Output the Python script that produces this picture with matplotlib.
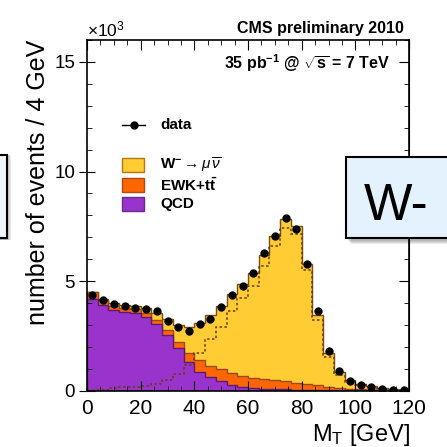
import numpy as np
import matplotlib
matplotlib.use("Agg")
import matplotlib.pyplot as plt
from matplotlib.patches import Rectangle
from matplotlib.lines import Line2D
from matplotlib.ticker import MultipleLocator

# ---------------------------------------------------------------
# Data (events x 10^3 per 4 GeV bin, M_T from 0 to 120 GeV)
# ---------------------------------------------------------------
mt_edges = np.arange(0, 124, 4)

qcd = [4.19, 3.91, 3.68, 3.61, 3.53, 3.38, 3.03, 2.54, 1.94, 1.33,
       0.87, 0.62, 0.42, 0.26, 0.17, 0.12, 0.09, 0.07, 0.06, 0.05,
       0.04, 0.03, 0.03, 0.02, 0.02, 0.01, 0.01, 0.01, 0.00, 0.00]
ewk = [0.30, 0.25, 0.18, 0.17, 0.19, 0.18, 0.20, 0.23, 0.30, 0.41,
       0.53, 0.51, 0.56, 0.53, 0.51, 0.48, 0.45, 0.41, 0.36, 0.31,
       0.26, 0.21, 0.15, 0.11, 0.07, 0.05, 0.03, 0.02, 0.02, 0.01]
wmunu = [0.03, 0.03, 0.12, 0.15, 0.16, 0.23, 0.30, 0.49, 0.76, 1.18,
         1.70, 2.34, 2.90, 3.62, 4.21, 4.79, 5.67, 6.60, 7.42, 7.14,
         5.50, 3.22, 1.55, 0.71, 0.40, 0.26, 0.16, 0.09, 0.06, 0.04]
data = [4.37, 4.14, 3.96, 3.87, 3.78, 3.73, 3.62, 3.20, 2.91, 2.73,
        3.03, 3.28, 3.83, 4.36, 4.77, 5.38, 6.29, 7.08, 7.86, 7.38,
        5.78, 3.62, 1.80, 0.91, 0.45, 0.26, 0.16, 0.09, 0.05, 0.02]

col_w = "#ffcc33"
col_ewk = "#ff6600"
col_qcd = "#9933cc"

plt.rcParams['font.family'] = 'Liberation Sans'
plt.rcParams['mathtext.fontset'] = 'custom'
plt.rcParams['mathtext.rm'] = 'Liberation Sans'
plt.rcParams['mathtext.it'] = 'Liberation Sans:italic'
plt.rcParams['mathtext.bf'] = 'Liberation Sans:bold'

W = 447.0  # figure size in pixels


def fx(px):
    return px / W


def fy(py):
    return 1 - py / W


fig = plt.figure(figsize=(4.47, 4.47), dpi=100)
ax = fig.add_axes([fx(87), fy(390.7), 322 / W, 350.7 / W])

# stacked histograms (drawn back to front)
ewk_top = np.array(qcd) + np.array(ewk)
total = ewk_top + np.array(wmunu)
ax.stairs(total, mt_edges, fill=True, facecolor=col_w, edgecolor="#7a5010", lw=1)
ax.stairs(ewk_top, mt_edges, fill=True, facecolor=col_ewk, edgecolor="#9a4a10", lw=1)
ax.stairs(qcd, mt_edges, fill=True, facecolor=col_qcd, edgecolor="#5a1a7a", lw=1)

# W alone, dotted
ax.stairs(wmunu, mt_edges, baseline=None, color="#6a3a18", lw=1.1, ls=(0, (1.6, 1.6)))

# data points
centers = (mt_edges[:-1] + mt_edges[1:]) / 2
ax.plot(centers, data, "o", color="k", ms=5, zorder=5)

ax.set_xlim(0, 120)
ax.set_ylim(0, 16)
ax.set_xticks(range(0, 121, 20))
ax.xaxis.set_minor_locator(MultipleLocator(5))
ax.set_yticks([0, 5, 10, 15])
ax.yaxis.set_minor_locator(MultipleLocator(1))

ax.tick_params(axis="x", which="both", direction="in", top=True, labelsize=15, pad=6)
ax.tick_params(axis="x", which="major", length=7)
ax.tick_params(axis="x", which="minor", length=3.5)
ax.tick_params(axis="y", which="major", direction="inout", length=11, labelsize=13.5, pad=3)
ax.tick_params(axis="y", which="minor", direction="in", length=3.5)

secy = ax.secondary_yaxis("right")
secy.set_yticks([0, 5, 10, 15])
secy.yaxis.set_minor_locator(MultipleLocator(1))
secy.tick_params(which="both", direction="in", labelright=False)
secy.tick_params(which="major", length=7)
secy.tick_params(which="minor", length=3.5)

for sp in ax.spines.values():
    sp.set_linewidth(1.2)

# axis titles
fig.text(fx(38), fy(40), "number of events / 4 GeV", rotation=90,
         ha="center", va="top", fontsize=18)
fig.text(fx(410), fy(441), r"M$_{\mathrm{T}}$ [GeV]", ha="right",
         va="baseline", fontsize=17)
fig.text(fx(87), fy(36), r"$\times$10$^{3}$", fontsize=12.5, va="baseline")

# header texts
fig.text(fx(404), fy(33), "CMS preliminary 2010", ha="right", va="baseline",
         fontsize=11.5, fontweight="bold")
fig.text(fx(390), fy(69), r"35 pb$^{\mathbf{-1}}$ @ $\sqrt{\mathbf{s}}$ = 7 TeV",
         ha="right", va="baseline", fontsize=11.5, fontweight="bold")

# legend
fig.add_artist(Line2D([fx(122), fx(145)], [fy(125), fy(125)], color="k", lw=1))
fig.add_artist(Line2D([fx(133.5)], [fy(125)], marker="o", color="k", ms=5))
fig.text(fx(160), fy(125), "data", va="center", fontsize=11, fontweight="bold")

leg_items = [
    (165, col_w, "#b07a10", r"$\mathbf{W}^{\mathbf{-}}\rightarrow\mu\,\overline{\nu}$"),
    (185, col_ewk, "#b04a10", r"EWK+t$\mathbf{\bar{t}}$"),
    (204, col_qcd, "#6a2a8a", "QCD"),
]
for yc, fc, ec, label in leg_items:
    fig.add_artist(Rectangle((fx(122), fy(yc + 6.7)), 22.3 / W, 13.4 / W,
                             transform=fig.transFigure, facecolor=fc,
                             edgecolor=ec, lw=1))
    fig.text(fx(160), fy(yc), label, va="center", fontsize=11, fontweight="bold")

# slide overlay boxes
for k in range(4):
    fig.add_artist(Rectangle((fx(348 + k), fy(241 + k)), 0.4, 81 / W,
                             transform=fig.transFigure, facecolor="k",
                             edgecolor="none", alpha=0.08, zorder=9))
fig.add_artist(Rectangle((fx(346), fy(238)), 0.4, 81 / W,
                         transform=fig.transFigure, facecolor="#e3f2fc",
                         edgecolor="k", lw=1.5, zorder=10))
fig.text(fx(364), fy(219.5), "W-", fontsize=37, va="baseline", zorder=11)

for k in range(4):
    fig.add_artist(Rectangle((-0.05, fy(240)), 0.05 + fx(8 + k), 85 / W,
                             transform=fig.transFigure, facecolor="k",
                             edgecolor="none", alpha=0.08, zorder=9))
fig.add_artist(Rectangle((-0.05, fy(238)), 0.05 + fx(7), 83 / W,
                         transform=fig.transFigure, facecolor="#eef6fb",
                         edgecolor="k", lw=1.5, zorder=10))

fig.savefig("out.png", dpi=100)
